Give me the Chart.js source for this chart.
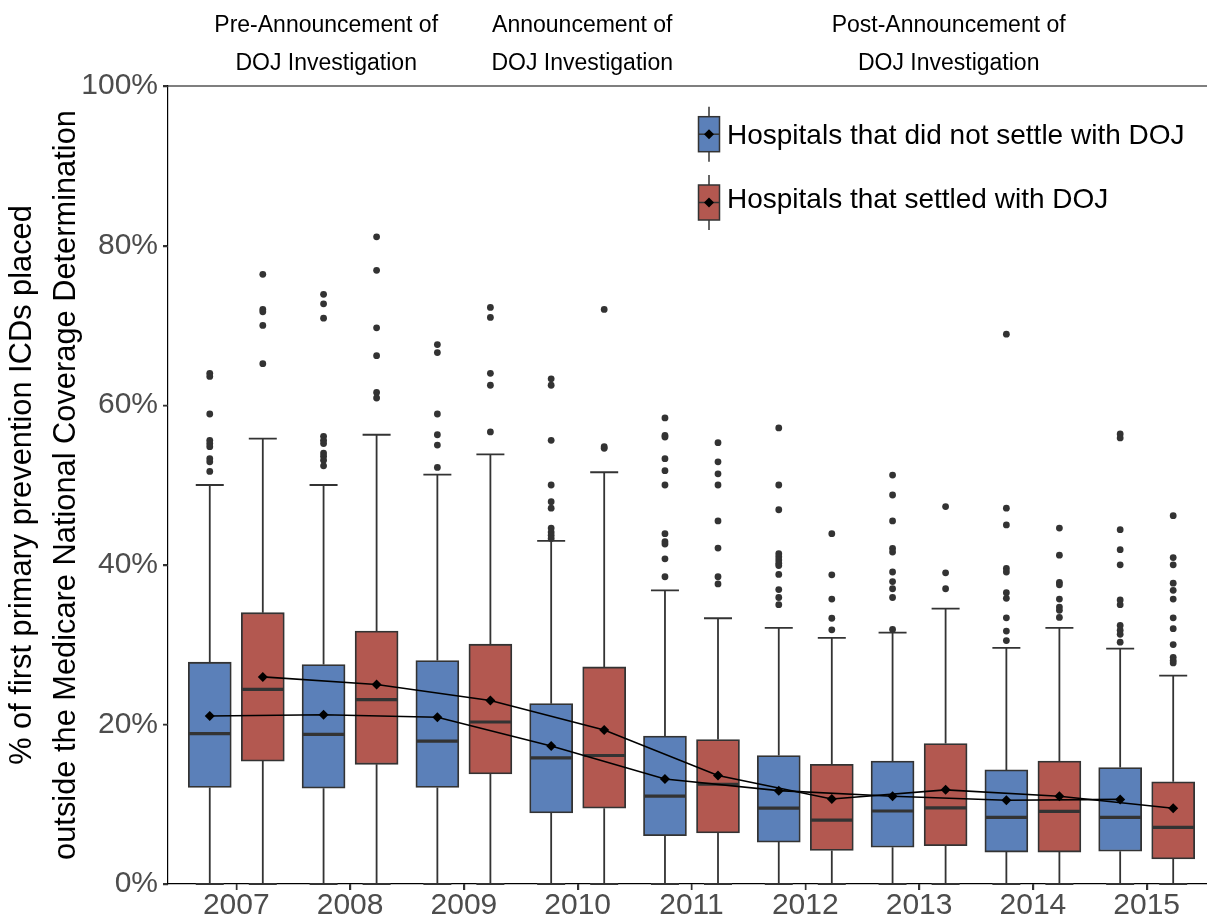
<!DOCTYPE html>
<html>
<head>
<meta charset="utf-8">
<script src="https://cdn.jsdelivr.net/npm/chart.js@4.4.1/dist/chart.umd.min.js"></script>
<style>
html,body{margin:0;padding:0;background:#fff}
#wrap{width:1207px;height:920px}
canvas{display:block}
</style>
</head>
<body>
<div id="wrap"><canvas id="chart" width="1207" height="920"></canvas></div>
<script>
const years = [2007, 2008, 2009, 2010, 2011, 2012, 2013, 2014, 2015];
const yTicks = [0, 20, 40, 60, 80, 100];
const seriesNames = ['Hospitals that did not settle with DOJ', 'Hospitals that settled with DOJ'];
const yTitle = ['% of first primary prevention ICDs placed', 'outside the Medicare National Coverage Determination'];
const headers = [
  ['Pre-Announcement of', 'DOJ Investigation'],
  ['Announcement of', 'DOJ Investigation'],
  ['Post-Announcement of', 'DOJ Investigation']
];
const headerAt = [2007.79, 2010.04, 2013.26];

// hospitals that did not settle
const nsLow = [0, 0, 0, 0, 0, 0, 0, 0, 0];
const nsQ1 = [12.1, 12.0, 12.1, 8.9, 6.05, 5.25, 4.6, 4.0, 4.1];
const nsMed = [18.85, 18.75, 17.9, 15.8, 11.0, 9.5, 9.15, 8.35, 8.35];
const nsQ3 = [27.8, 27.5, 28.0, 22.6, 18.55, 16.1, 15.4, 14.3, 14.6];
const nsHigh = [50.0, 50.0, 51.3, 43.0, 36.8, 32.1, 31.5, 29.6, 29.5];
const nsMean = [21.05, 21.2, 20.9, 17.3, 13.15, 11.7, 11.0, 10.5, 10.6];
const nsOut = [
  [64.0, 63.6, 58.9, 55.6, 55.2, 54.8, 53.3, 52.9, 51.7],
  [73.9, 72.7, 70.9, 56.1, 55.6, 55.2, 54.0, 53.6, 53.1, 52.4],
  [67.6, 66.6, 58.9, 56.3, 55.0, 52.2],
  [63.3, 62.5, 55.6, 50.0, 47.9, 47.1, 44.6, 44.1, 43.7, 43.3],
  [58.4, 56.2, 56.0, 53.3, 51.8, 50.0, 43.9, 42.9, 42.6, 40.75, 38.5],
  [57.15, 50.0, 46.9, 41.4, 41.0, 40.6, 40.2, 39.9, 38.8, 36.9, 35.9, 35.0],
  [51.25, 48.75, 45.5, 42.05, 41.6, 39.1, 37.9, 37.0, 35.9, 31.9],
  [68.9, 47.1, 45.0, 39.55, 39.1, 36.5, 35.8, 33.35, 31.7, 30.5],
  [56.4, 55.9, 44.4, 41.9, 40.0, 35.6, 35.0, 32.4, 31.8, 31.3, 30.3]
];

// hospitals that settled
const sLow = [0, 0, 0, 0, 0, 0, 0, 0, 0];
const sQ1 = [15.4, 15.0, 13.8, 9.5, 6.4, 4.2, 4.8, 4.0, 3.15];
const sMed = [24.4, 23.1, 20.3, 16.1, 12.5, 8.0, 9.55, 9.1, 7.1];
const sQ3 = [34.0, 31.7, 30.05, 27.2, 18.1, 15.0, 17.6, 15.4, 12.8];
const sHigh = [55.8, 56.3, 53.85, 51.6, 33.3, 30.85, 34.5, 32.1, 26.1];
const sMean = [25.95, 25.0, 23.0, 19.3, 13.6, 10.65, 11.8, 11.0, 9.5];
const sOut = [
  [76.4, 72.0, 71.7, 70.0, 65.2],
  [81.1, 76.9, 69.7, 66.2, 61.6, 60.9],
  [72.25, 71.0, 64.0, 62.5, 56.65],
  [72.0, 54.8, 54.6],
  [55.3, 52.9, 51.4, 50.0, 45.5, 42.1, 38.5, 37.6],
  [43.9, 38.75, 35.7, 33.3, 31.85],
  [47.3, 39.0, 37.0],
  [44.6, 41.2, 37.8, 37.5, 35.7, 34.7, 34.3, 33.4],
  [46.15, 40.9, 40.0, 37.7, 36.8, 35.7, 33.35, 32.0, 30.0, 28.4, 28.0, 27.7]
];

const DODGE = 0.233;
const INK = '#333333';
const groups = [
  {name: seriesNames[0], color: '#5B80B9', dx: -DODGE, lo: nsLow, q1: nsQ1, med: nsMed, q3: nsQ3, hi: nsHigh, mean: nsMean, out: nsOut},
  {name: seriesNames[1], color: '#B35850', dx: DODGE, lo: sLow, q1: sQ1, med: sMed, q3: sQ3, hi: sHigh, mean: sMean, out: sOut}
];

Chart.defaults.font.family = '"Liberation Sans", Arial, sans-serif';

let datasets = [];
groups.forEach((g, gi) => {
  datasets.push({
    type: 'bar', label: g.name, boxGroup: gi,
    data: years.map((yr, i) => ({x: yr + g.dx, y: [g.q1[i], g.q3[i]]})),
    backgroundColor: g.color, borderColor: INK, borderWidth: 1.8,
    borderSkipped: false, barThickness: 43, grouped: false, order: 3
  });
});
groups.forEach(g => {
  let pts = [];
  years.forEach((yr, i) => g.out[i].forEach(v => pts.push({x: yr + g.dx, y: v})));
  datasets.push({
    type: 'scatter', data: pts, pointRadius: 3.4, pointBackgroundColor: INK,
    pointBorderWidth: 0, order: 2
  });
});
groups.forEach(g => {
  datasets.push({
    type: 'line', data: years.map((yr, i) => ({x: yr + g.dx, y: g.mean[i]})),
    borderColor: '#000', borderWidth: 1.6, tension: 0, fill: false,
    pointStyle: 'rectRot', pointRadius: 5, pointBackgroundColor: '#000', pointBorderWidth: 0, order: 1
  });
});

const boxParts = {
  id: 'boxParts',
  beforeDatasetDraw(chart, args) {
    let ds = chart.data.datasets[args.index];
    if (ds.boxGroup === undefined) return;
    let g = groups[ds.boxGroup], x = chart.scales.x, y = chart.scales.y, ctx = chart.ctx;
    ctx.save();
    ctx.strokeStyle = INK;
    ctx.lineWidth = 1.8;
    years.forEach((yr, i) => {
      let px = x.getPixelForValue(yr + g.dx);
      ctx.beginPath();
      ctx.moveTo(px, y.getPixelForValue(g.q3[i])); ctx.lineTo(px, y.getPixelForValue(g.hi[i]));
      ctx.moveTo(px, y.getPixelForValue(g.q1[i])); ctx.lineTo(px, y.getPixelForValue(g.lo[i]));
      [g.hi[i], g.lo[i]].forEach(v => {
        let py = y.getPixelForValue(v);
        ctx.moveTo(px - 14, py); ctx.lineTo(px + 14, py);
      });
      ctx.stroke();
    });
    ctx.restore();
  },
  afterDatasetDraw(chart, args) {
    let ds = chart.data.datasets[args.index];
    if (ds.boxGroup === undefined) return;
    let g = groups[ds.boxGroup], x = chart.scales.x, y = chart.scales.y, ctx = chart.ctx;
    ctx.save();
    ctx.strokeStyle = INK;
    ctx.lineWidth = 3.2;
    years.forEach((yr, i) => {
      let px = x.getPixelForValue(yr + g.dx), py = y.getPixelForValue(g.med[i]);
      ctx.beginPath();
      ctx.moveTo(px - 21, py); ctx.lineTo(px + 21, py);
      ctx.stroke();
    });
    ctx.restore();
  },
  afterDraw(chart) {
    let ctx = chart.ctx, a = chart.chartArea, x = chart.scales.x, y = chart.scales.y;
    ctx.save();
    // panel top border
    ctx.strokeStyle = '#000';
    ctx.lineWidth = 1.2;
    ctx.beginPath();
    ctx.moveTo(a.left, a.top); ctx.lineTo(a.right, a.top);
    ctx.stroke();

    // axis tick marks
    ctx.strokeStyle = INK;
    ctx.lineWidth = 1.4;
    ctx.beginPath();
    years.forEach(v => {
      let px = Math.round(x.getPixelForValue(v)) + 0.5;
      ctx.moveTo(px, a.bottom); ctx.lineTo(px, a.bottom + 6);
    });
    yTicks.forEach(v => {
      let py = Math.round(y.getPixelForValue(v)) + 0.5;
      ctx.moveTo(a.left - 5, py); ctx.lineTo(a.left, py);
    });
    ctx.stroke();

    // period headers
    ctx.fillStyle = '#000';
    ctx.font = '23px "Liberation Sans", Arial, sans-serif';
    ctx.textAlign = 'center';
    ctx.textBaseline = 'alphabetic';
    headers.forEach((h, i) => {
      let px = x.getPixelForValue(headerAt[i]);
      ctx.fillText(h[0], px, 31.7);
      ctx.fillText(h[1], px, 70);
    });

    // legend
    let rows = [134.2, 202.5], textBase = [144.3, 207.5], cx = 709;
    ctx.font = '28px "Liberation Sans", Arial, sans-serif';
    ctx.textAlign = 'left';
    groups.forEach((g, i) => {
      let cy = rows[i];
      ctx.strokeStyle = INK;
      ctx.lineWidth = 1.5;
      ctx.beginPath();
      ctx.moveTo(cx, cy - 27.5); ctx.lineTo(cx, cy + 27.5);
      ctx.stroke();
      ctx.fillStyle = g.color;
      ctx.fillRect(cx - 10.5, cy - 17.5, 21, 35);
      ctx.strokeRect(cx - 10.5, cy - 17.5, 21, 35);
      ctx.beginPath();
      ctx.moveTo(cx - 10.5, cy); ctx.lineTo(cx + 10.5, cy);
      ctx.stroke();
      ctx.fillStyle = '#000';
      ctx.beginPath();
      ctx.moveTo(cx, cy - 5); ctx.lineTo(cx + 5, cy); ctx.lineTo(cx, cy + 5); ctx.lineTo(cx - 5, cy);
      ctx.closePath();
      ctx.fill();
      ctx.fillText(g.name, 727, textBase[i]);
    });
    ctx.restore();
  }
};

new Chart(document.getElementById('chart'), {
  type: 'bar',
  data: {datasets: datasets},
  plugins: [boxParts],
  options: {
    responsive: false,
    animation: false,
    layout: {autoPadding: false, padding: {top: 86, right: 0, bottom: 0, left: 0}},
    plugins: {legend: {display: false}, tooltip: {enabled: false}},
    scales: {
      x: {
        type: 'linear', min: 2006.4, max: 2015.53, offset: false,
        afterBuildTicks: s => { s.ticks = years.map(v => ({value: v})); },
        afterFit: s => { s.height = 36; s.paddingLeft = 0; s.paddingRight = 0; },
        ticks: {callback: v => String(v), font: {size: 30, lineHeight: 1}, color: '#4d4d4d', padding: 1, maxRotation: 0, autoSkip: false},
        grid: {display: true, drawOnChartArea: false, drawTicks: true, offset: false, tickLength: 6, color: INK, tickColor: INK, tickWidth: 1.4, lineWidth: 1.4},
        border: {display: true, color: '#000', width: 1.2}
      },
      y: {
        type: 'linear', min: 0, max: 100,
        afterBuildTicks: s => { s.ticks = yTicks.map(v => ({value: v})); },
        afterFit: s => { s.width = 168; },
        ticks: {callback: v => v + '%', font: {size: 30}, color: '#4d4d4d', padding: 5},
        grid: {drawOnChartArea: false, tickLength: 5, color: INK, tickColor: INK, tickWidth: 1.4, lineWidth: 1.4},
        border: {display: true, color: '#000', width: 1.2},
        title: {display: true, text: yTitle, color: '#000', font: {size: 30.8, lineHeight: 1.42}, padding: {top: 1, bottom: 0}}
      }
    }
  }
});
</script>
</body>
</html>
